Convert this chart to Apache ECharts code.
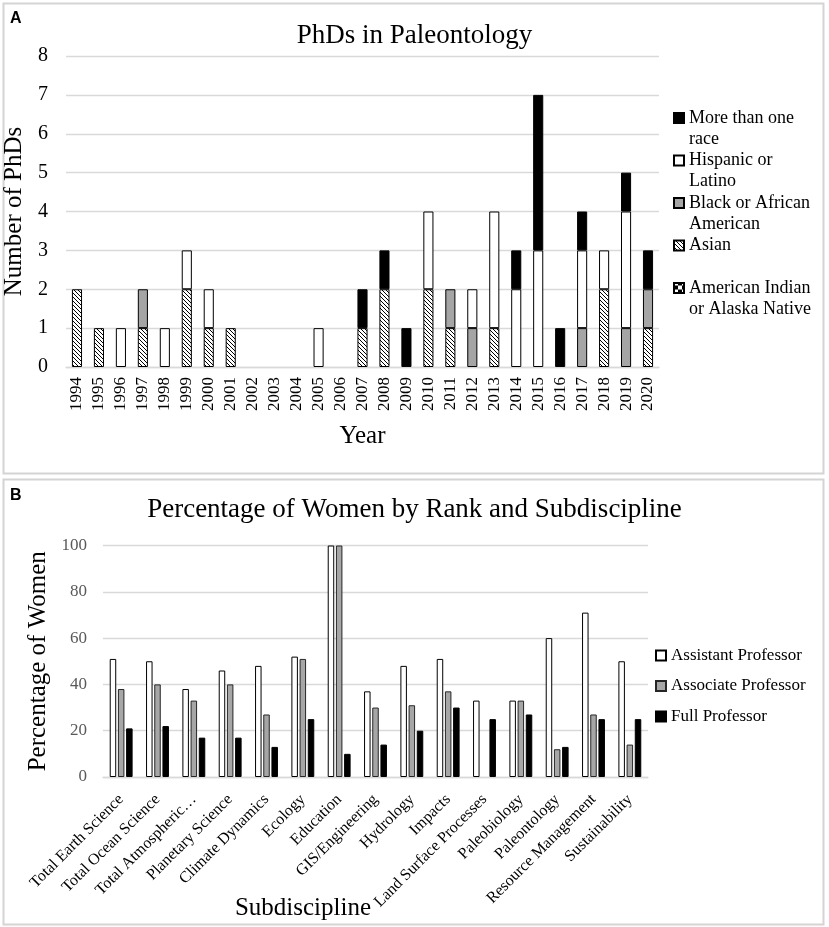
<!DOCTYPE html>
<html>
<head>
<meta charset="utf-8">
<script src="https://cdn.jsdelivr.net/npm/echarts@6/dist/echarts.min.js"></script>
<style>
html,body{margin:0;padding:0;background:#fff;}
#chart{width:829px;height:927px;}
</style>
</head>
<body>
<div id="chart"></div>
<script>
// ---------- Panel A data ----------
const years = ['1994','1995','1996','1997','1998','1999','2000','2001','2002','2003','2004','2005','2006','2007','2008','2009','2010','2011','2012','2013','2014','2015','2016','2017','2018','2019','2020'];
const americanIndian = [0,0,0,0,0,0,0,0,0,0,0,0,0,0,0,0,0,0,0,0,0,0,0,0,0,0,0];
const asian          = [2,1,0,1,0,2,1,1,0,0,0,0,0,1,2,0,2,1,0,1,0,0,0,0,2,0,1];
const blackAfrican   = [0,0,0,1,0,0,0,0,0,0,0,0,0,0,0,0,0,1,1,0,0,0,0,1,0,1,1];
const hispanic       = [0,0,1,0,1,1,1,0,0,0,0,1,0,0,0,0,2,0,1,3,2,3,0,2,1,3,0];
const moreThanOne    = [0,0,0,0,0,0,0,0,0,0,0,0,0,1,1,1,0,0,0,0,1,4,1,1,0,1,1];
const phdTicks = [0,1,2,3,4,5,6,7,8];

// ---------- Panel B data ----------
const subdisciplines = ['Total Earth Science','Total Ocean Science','Total Atmospheric\u2026','Planetary Science','Climate Dynamics','Ecology','Education','GIS/Engineering','Hydrology','Impacts','Land Surface Processes','Paleobiology','Paleontology','Resource Management','Sustainability'];
const assistantProf = [51,50,38,46,48,52,100,37,48,51,33,33,60,71,50];
const associateProf = [38,40,33,40,27,51,100,30,31,37,null,33,12,27,14];
const fullProf      = [21,22,17,17,13,25,10,14,20,30,25,27,13,25,25];
const pctTicks = [0,20,40,60,80,100];

const SERIF = 'Liberation Serif, Times New Roman, serif';

function hatchPattern(){
  const c = document.createElement('canvas');
  c.width = 4; c.height = 4;
  const g = c.getContext('2d');
  g.fillStyle = '#fff'; g.fillRect(0,0,4,4);
  g.strokeStyle = '#000'; g.lineWidth = 1;
  g.beginPath();
  [-4,0,4].forEach(o => { g.moveTo(o,0); g.lineTo(o+4,4); });
  g.stroke();
  return c;
}
function checkerPattern(){
  const c = document.createElement('canvas');
  c.width = 8; c.height = 8;
  const g = c.getContext('2d');
  g.fillStyle = '#fff'; g.fillRect(0,0,8,8);
  g.fillStyle = '#000'; g.fillRect(0,0,4,4); g.fillRect(4,4,4,4);
  return c;
}
const nz = arr => arr.map(v => (v === 0 || v === null) ? '-' : v);

const seriesA = [
  {name:'American Indian or Alaska Native', data: americanIndian, color:{image:checkerPattern(), repeat:'repeat'}},
  {name:'Asian', data: asian, color:{image:hatchPattern(), repeat:'repeat'}},
  {name:'Black or African American', data: blackAfrican, color:'#a5a5a5'},
  {name:'Hispanic or Latino', data: hispanic, color:'#ffffff'},
  {name:'More than one race', data: moreThanOne, color:'#000000'}
].map(s => ({
  name: s.name, type:'bar', stack:'phd', xAxisIndex:0, yAxisIndex:0,
  barWidth:'46%', data: nz(s.data),
  itemStyle:{color:s.color, borderColor:'#000', borderWidth:1},
  emphasis:{disabled:true}
}));

const seriesB = [
  {name:'Assistant Professor', data: assistantProf, color:'#ffffff', border:'#000'},
  {name:'Associate Professor', data: associateProf, color:'#a6a6a6', border:'#262626'},
  {name:'Full Professor', data: fullProf, color:'#000000', border:'#000'}
].map(s => ({
  name: s.name, type:'bar', xAxisIndex:1, yAxisIndex:1,
  barWidth:6.5, barGap:'26%', data: nz(s.data),
  itemStyle:{color:s.color, borderColor:s.border, borderWidth:1},
  emphasis:{disabled:true}
}));

// legend A wrapped labels (Excel-style two-line slots)
const wrapA = {
  'More than one race':'More than one\nrace',
  'Hispanic or Latino':'Hispanic or\nLatino',
  'Black or African American':'Black or African\nAmerican',
  'Asian':'Asian\n ',
  'American Indian or Alaska Native':'American Indian\nor Alaska Native'
};
const legendAOrder = ['More than one race','Hispanic or Latino','Black or African American','Asian','American Indian or Alaska Native'];
// square marker aligned with first text line inside a 10x42 icon box
const iconTopSquare = 'path://M0,5.5L10,5.5L10,15.5L0,15.5Z M0,0L0,0 M0,42L0,42';

const option = {
  animation:false,
  backgroundColor:'#fff',
  title:[
    {text:'PhDs in Paleontology', left:'center', top:22, padding:0,
     textStyle:{fontFamily:SERIF, fontSize:27, fontWeight:'normal', color:'#000'}},
    {text:'Percentage of Women by Rank and Subdiscipline', left:'center', top:496, padding:0,
     textStyle:{fontFamily:SERIF, fontSize:27, fontWeight:'normal', color:'#000'}}
  ],
  legend:[{
    orient:'vertical', left:673, top:106.5, padding:0,
    itemWidth:10, itemHeight:42, itemGap:-1.5, icon:iconTopSquare, symbolKeepAspect:false,
    selectedMode:false,
    data:legendAOrder,
    formatter: name => wrapA[name],
    textStyle:{fontFamily:SERIF, fontSize:18, lineHeight:21, color:'#000'}
  },{
    orient:'vertical', left:655, top:645.5, padding:0,
    itemWidth:10, itemHeight:10, itemGap:10.5, icon:'rect', selectedMode:false,
    data:['Assistant Professor','Associate Professor','Full Professor'],
    textStyle:{fontFamily:SERIF, fontSize:17, lineHeight:20, color:'#000'}
  }],
  grid:[
    {left:66, top:56, width:593, height:311, containLabel:false, outerBoundsMode:'none'},
    {left:103, top:545.5, width:545, height:231.5, containLabel:false, outerBoundsMode:'none'}
  ],
  xAxis:[
    {type:'category', gridIndex:0, data:years,
     name:'Year', nameLocation:'middle', nameGap:57,
     nameTextStyle:{fontFamily:SERIF, fontSize:25, color:'#000'},
     axisLine:{show:true, lineStyle:{color:'#d9d9d9', width:1.3}},
     axisTick:{show:false},
     axisLabel:{interval:0, rotate:90, margin:10, fontFamily:SERIF, fontSize:17, color:'#000'}},
    {type:'category', gridIndex:1, data:subdisciplines,
     axisLine:{show:true, lineStyle:{color:'#d9d9d9', width:1.3}},
     axisTick:{show:false},
     axisLabel:{interval:0, rotate:45, margin:20, fontFamily:SERIF, fontSize:16, color:'#000'}}
  ],
  yAxis:[
    {type:'value', gridIndex:0, min:phdTicks[0], max:phdTicks[phdTicks.length-1], interval:1,
     name:'Number of PhDs', nameLocation:'middle', nameGap:23, nameRotate:90,
     nameTextStyle:{fontFamily:SERIF, fontSize:25, color:'#000'},
     axisLine:{show:false}, axisTick:{show:false},
     splitLine:{show:true, lineStyle:{color:'#d9d9d9', width:1.3}},
     axisLabel:{margin:18, fontFamily:SERIF, fontSize:20, color:'#000'}},
    {type:'value', gridIndex:1, min:pctTicks[0], max:pctTicks[pctTicks.length-1], interval:20,
     name:'Percentage of Women', nameLocation:'middle', nameGap:44, nameRotate:90,
     nameTextStyle:{fontFamily:SERIF, fontSize:25, color:'#000'},
     axisLine:{show:false}, axisTick:{show:false},
     splitLine:{show:true, lineStyle:{color:'#d9d9d9', width:1.3}},
     axisLabel:{margin:16, fontFamily:SERIF, fontSize:17, color:'#595959'}}
  ],
  graphic:[
    {type:'rect', z:-10, shape:{x:3.5, y:3.5, width:820, height:470}, style:{fill:'#fff', stroke:'#d4d4d4', lineWidth:2}},
    {type:'rect', z:-10, shape:{x:3.5, y:479.5, width:820, height:445}, style:{fill:'#fff', stroke:'#d4d4d4', lineWidth:2}},
    {type:'text', left:10, top:11, style:{text:'A', font:'bold 16px Liberation Sans, Arial, sans-serif', fill:'#000'}},
    {type:'text', left:10, top:488, style:{text:'B', font:'bold 16px Liberation Sans, Arial, sans-serif', fill:'#000'}},
    {type:'text', x:303, y:908, style:{text:'Subdiscipline', font:'25px Liberation Serif, Times New Roman, serif', fill:'#000', align:'center', verticalAlign:'middle'}}
  ],
  series: seriesA.concat(seriesB)
};

const chart = echarts.init(document.getElementById('chart'), null, {renderer:'canvas'});
chart.setOption(option);
</script>
</body>
</html>
